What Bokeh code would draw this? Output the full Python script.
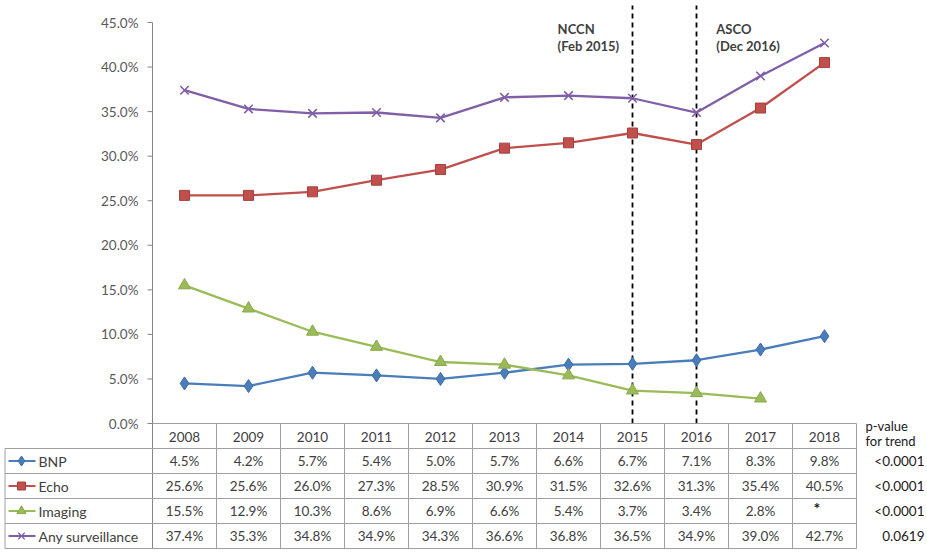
from bokeh.plotting import figure
from bokeh.models import Range1d
from bokeh.core.properties import value
from bokeh.embed import file_html
from bokeh.resources import INLINE
import math

# ---------------- data ----------------
years = ["2008", "2009", "2010", "2011", "2012", "2013", "2014", "2015", "2016", "2017", "2018"]
bnp = [4.5, 4.2, 5.7, 5.4, 5.0, 5.7, 6.6, 6.7, 7.1, 8.3, 9.8]
echo = [25.6, 25.6, 26.0, 27.3, 28.5, 30.9, 31.5, 32.6, 31.3, 35.4, 40.5]
imaging = [15.5, 12.9, 10.3, 8.6, 6.9, 6.6, 5.4, 3.7, 3.4, 2.8, float("nan")]
any_surv = [37.4, 35.3, 34.8, 34.9, 34.3, 36.6, 36.8, 36.5, 34.9, 39.0, 42.7]
series_names = ["BNP", "Echo", "Imaging", "Any surveillance"]
p_values = ["<0.0001", "<0.0001", "<0.0001", "0.0619"]
pvalue_header = ["p-value", "for trend"]
y_ticks = [0, 5, 10, 15, 20, 25, 30, 35, 40, 45]
event_years = ["2015", "2016"]
event_line1 = ["NCCN", "ASCO"]
event_line2 = ["(Feb 2015)", "(Dec 2016)"]
missing_mark = "*"

series_values = [bnp, echo, imaging, any_surv]
colors = ["#4A7EBB", "#C0504D", "#9BBB59", "#7F5FA8"]
edge_colors = ["#3B6AA8", "#A8403D", "#87A84A", "#6A4E95"]
markers = ["diamond", "square", "triangle", "x"]
marker_sizes = [13, 10, 12, 12]
legend_sizes = [10, 8, 9, 9]

# ---------------- geometry (screen pixels) ----------------
W, H = 927, 553
X0_PX = 184.0      # centre of first category
COL = 64.0         # column width
ZERO_PY = 423.0    # pixel row of 0 %
PX_PER_PCT = 8.911
ROW = 25.0

FONT = "Lato"
TXT = "#404040"
GRID = "#A0A0A0"
AXIS = "#868686"


def px_to_x(px):
    return (px - X0_PX) / COL


def py_to_y(py):
    return (ZERO_PY - py) / PX_PER_PCT


n = len(years)
x_idx = list(range(n))

p = figure(width=W, height=H,
           x_range=Range1d(px_to_x(0), px_to_x(W)), y_range=Range1d(py_to_y(H), py_to_y(0)),
           output_backend="svg", toolbar_location=None,
           min_border_left=0, min_border_right=0, min_border_top=0, min_border_bottom=0)
p.axis.visible = False
p.grid.visible = False
p.outline_line_color = None
p.background_fill_color = "white"
p.border_fill_color = "white"

left_x = -0.5
right_x = n - 0.5
header_bottom = py_to_y(ZERO_PY + ROW)
table_bottom = py_to_y(ZERO_PY + ROW * (len(series_names) + 1))

# ---------------- y axis ----------------
p.segment(x0=[left_x], y0=[table_bottom], x1=[left_x], y1=[y_ticks[-1]], line_color=AXIS, line_width=1)
tick_left = px_to_x(X0_PX - COL / 2 - 5)
p.segment(x0=[tick_left] * len(y_ticks), y0=y_ticks, x1=[left_x] * len(y_ticks), y1=y_ticks,
          line_color=AXIS, line_width=1)
p.text(x=[px_to_x(138)] * len(y_ticks), y=y_ticks, text=["%.1f%%" % v for v in y_ticks],
       text_font=value(FONT), text_font_size="13.5px", text_color="#595959",
       text_align="right", text_baseline="middle")

# ---------------- event lines ----------------
ev_x = [years.index(y) for y in event_years]
p.segment(x0=ev_x, y0=[0] * len(ev_x), x1=ev_x, y1=[py_to_y(5)] * len(ev_x),
          line_color="black", line_width=1.8, line_dash="5 4")
ev_text_x = [ev_x[0] - 1.17, ev_x[1] + 0.31]
p.text(x=ev_text_x, y=[py_to_y(28)] * 2, text=event_line1,
       text_font=value(FONT), text_font_style="bold", text_font_size="13px",
       text_color=TXT, text_align="left", text_baseline="middle")
p.text(x=ev_text_x, y=[py_to_y(45)] * 2, text=event_line2,
       text_font=value(FONT), text_font_style="bold", text_font_size="13px",
       text_color=TXT, text_align="left", text_baseline="middle")

# ---------------- series ----------------
for vals, c, ec, m, s in zip(series_values, colors, edge_colors, markers, marker_sizes):
    p.line(x_idx, vals, line_color=c, line_width=2.3)
    if m == "x":
        p.scatter(x_idx, vals, marker=m, size=s, line_color=c, line_width=1.6)
    else:
        p.scatter(x_idx, vals, marker=m, size=s, fill_color=c, line_color=ec, line_width=1)

# ---------------- table ----------------
rows = len(series_names)
border_x = px_to_x(4.5)
p.segment(x0=[left_x], y0=[0], x1=[right_x], y1=[0], line_color=GRID, line_width=1)
vx = [i + 0.5 for i in range(n)]
p.segment(x0=vx, y0=[0] * n, x1=vx, y1=[table_bottom] * n, line_color=GRID, line_width=1)
row_lines = [py_to_y(ZERO_PY + ROW * (k + 1)) for k in range(rows + 1)]
p.segment(x0=[border_x] * len(row_lines), y0=row_lines, x1=[right_x] * len(row_lines), y1=row_lines,
          line_color=GRID, line_width=1)
p.segment(x0=[border_x], y0=[header_bottom], x1=[border_x], y1=[table_bottom], line_color=GRID, line_width=1)

p.text(x=x_idx, y=[py_to_y(436)] * n, text=years, text_font=value(FONT),
       text_font_size="13.5px", text_color=TXT, text_align="center", text_baseline="middle")
p.text(x=[px_to_x(865)] * 2, y=[py_to_y(425), py_to_y(440)], text=pvalue_header,
       text_font=value(FONT), text_font_size="13px", text_color="#1A1A1A",
       text_align="left", text_baseline="middle")

for r, (name, vals, c, ec, m, s, pv) in enumerate(zip(series_names, series_values, colors,
                                                        edge_colors, markers, legend_sizes, p_values)):
    yc = py_to_y(ZERO_PY + ROW * (r + 1) + ROW / 2)
    p.segment(x0=[px_to_x(8)], y0=[yc], x1=[px_to_x(35)], y1=[yc], line_color=c, line_width=2)
    if m == "x":
        p.scatter([px_to_x(21)], [yc], marker=m, size=s, line_color=c, line_width=1.3)
    else:
        p.scatter([px_to_x(21)], [yc], marker=m, size=s, fill_color=c, line_color=ec, line_width=1)
    p.text(x=[px_to_x(38)], y=[yc], text=[name], text_font=value(FONT), text_font_size="14px",
           text_color=TXT, text_align="left", text_baseline="middle")
    present = [not (isinstance(v, float) and math.isnan(v)) for v in vals]
    xs = [i for i, ok in zip(x_idx, present) if ok]
    labels = ["%.1f%%" % v for v, ok in zip(vals, present) if ok]
    p.text(x=xs, y=[yc] * len(xs), text=labels, text_font=value(FONT), text_font_size="13.5px",
           text_color=TXT, text_align="center", text_baseline="middle")
    miss = [i for i, ok in zip(x_idx, present) if not ok]
    if miss:
        p.text(x=[i - 0.12 for i in miss], y=[yc + 0.35] * len(miss), text=[missing_mark] * len(miss),
               text_font=value(FONT), text_font_style="bold", text_font_size="16px",
               text_color="#1A1A1A", text_align="center", text_baseline="middle")
    p.text(x=[px_to_x(924)], y=[yc], text=[pv], text_font=value(FONT), text_font_size="13.5px",
           text_color="#1A1A1A", text_align="right", text_baseline="middle")

open("out.html", "w").write(file_html(p, INLINE))
